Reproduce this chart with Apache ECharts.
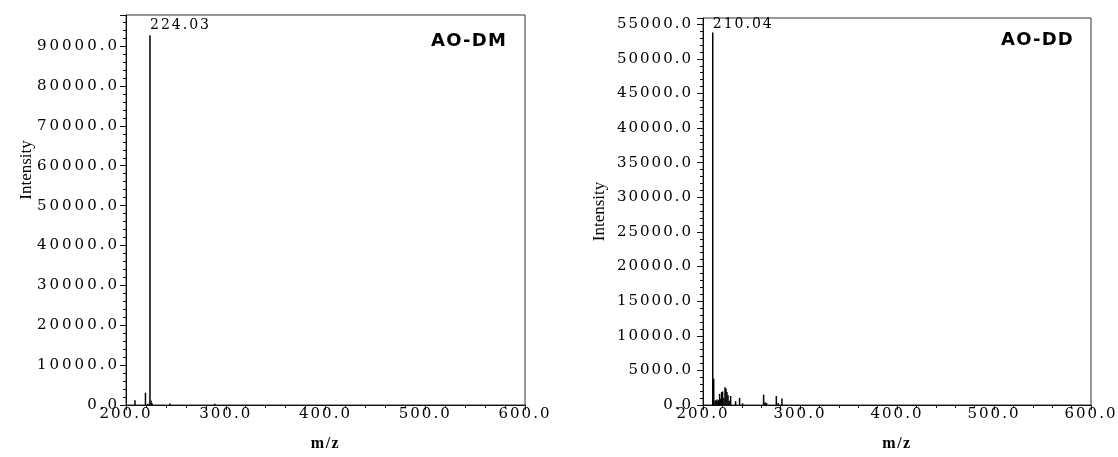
<!DOCTYPE html>
<html>
<head>
<meta charset="utf-8">
<script src="https://cdn.jsdelivr.net/npm/echarts@6/dist/echarts.min.js"></script>
<style>
  html, body { margin: 0; padding: 0; background: #fff; }
  #chart { width: 1118px; height: 457px; }
</style>
</head>
<body>
<div id="chart"></div>
<script>
// m/z axis range shared by both spectra
const mzMin = 200, mzMax = 600, mzStep = 100;

// AO-DM spectrum
const dmTitle = 'AO-DM';
const dmMz  = [209.0, 219.5, 222.0, 224.03, 225.0, 226.0, 244.0, 289.0];
const dmInt = [1200, 3100, 300, 92700, 1100, 500, 400, 300];
const dmBasePeak = 224.03;
const dmYMax = 97800, dmYStep = 10000;

// AO-DD spectrum
const ddTitle = 'AO-DD';
const ddMz  = [210.04, 211.04, 212.5, 213.5, 214.5, 215.5, 216.2, 217.1, 218.2, 219.2, 220.2, 221.5,
               222.7, 223.7, 224.7, 225.8, 227.0, 228.5, 233.6, 237.7, 240.8, 262.5, 264.0, 265.5,
               275.6, 277.6, 281.4];
const ddInt = [53800, 3800, 700, 600, 800, 500, 700, 1600, 900, 1870, 1960, 1000,
               2570, 2330, 1870, 1400, 600, 1300, 560, 1030, 230, 1500, 400, 300,
               1300, 280, 930];
const ddBasePeak = 210.04;
const ddYMax = 55900, ddYStep = 5000;

const xName = 'm/z';
const yName = 'Intensity';

// Font stacks: the wide stack is used for the AO-DM intensity numbers, which are tracked wider
const serifNum = 'DejaVu Serif';
const serifNumWide = 'DejaVu Serif, serif';

// Instrument-style wide tracking for the serif tick numbers and the bold titles
(function () {
  const P = CanvasRenderingContext2D.prototype;
  const spacingFor = f =>
    (/DejaVu Serif/.test(f) && /,/.test(f)) ? '3px' :
    /DejaVu Serif/.test(f) ? '2px' :
    /DejaVu Sans/.test(f) ? '1.2px' :
    (/bold|700/.test(f) && /Liberation Serif/.test(f)) ? '1.5px' : '0px';
  ['fillText', 'strokeText'].forEach(name => {
    const orig = P[name];
    P[name] = function () {
      if (!('letterSpacing' in this)) return orig.apply(this, arguments);
      const prev = this.letterSpacing;
      this.letterSpacing = spacingFor(this.font);
      const r = orig.apply(this, arguments);
      this.letterSpacing = prev;
      return r;
    };
  });
})();

const tickFont = { fontFamily: serifNum, fontSize: 15, color: '#000' };
const yNameStyle = { fontFamily: 'Liberation Serif', fontSize: 17, color: '#000' };

function peakData(mz, inten, basePeak, labelDist) {
  return mz.map((m, i) => {
    const item = { value: [m, inten[i]] };
    if (m === basePeak) {
      item.label = {
        show: true,
        position: 'top',
        align: 'left',
        distance: labelDist,
        formatter: p => p.value[0].toFixed(2),
        ...tickFont,
        fontSize: 14
      };
    }
    return item;
  });
}

function xAxisFor(gridIndex) {
  return {
    type: 'value', gridIndex, min: mzMin, max: mzMax, interval: mzStep,
    name: xName, nameLocation: 'middle', nameGap: 31,
    nameTextStyle: { fontFamily: 'Liberation Serif', fontWeight: 'bold', fontSize: 16, color: '#000' },
    axisLine: { show: true, lineStyle: { color: '#111', width: 1 } },
    axisTick: { show: true, length: 5, lineStyle: { color: '#111' } },
    minorTick: { show: true, splitNumber: 5, length: 3, lineStyle: { color: '#111' } },
    axisLabel: { ...tickFont, margin: 2, formatter: v => v.toFixed(1) },
    splitLine: { show: false }
  };
}

function yAxisFor(gridIndex, max, step, margin, family, withName, nameGap) {
  const axis = {
    type: 'value', gridIndex, min: 0, max, interval: step,
    axisLine: { show: true, lineStyle: { color: '#111', width: 1 } },
    axisTick: { show: true, length: 6, lineStyle: { color: '#111' } },
    minorTick: { show: true, splitNumber: 5, length: 3, lineStyle: { color: '#111' } },
    axisLabel: { ...tickFont, fontFamily: family, margin, showMaxLabel: false, formatter: v => v.toFixed(1) },
    splitLine: { show: false }
  };
  if (withName) {
    axis.name = yName;
    axis.nameLocation = 'middle';
    axis.nameGap = nameGap;
    axis.nameTextStyle = yNameStyle;
  }
  return axis;
}

const chart = echarts.init(document.getElementById('chart'), null, { renderer: 'canvas' });

chart.setOption({
  animation: false,
  backgroundColor: '#fff',
  grid: [
    { left: 126, right: 593, top: 15, bottom: 41, show: true, borderColor: '#333', borderWidth: 1 },
    { left: 703, right: 27, top: 18, bottom: 40, show: true, borderColor: '#333', borderWidth: 1 }
  ],
  xAxis: [xAxisFor(0), xAxisFor(1)],
  yAxis: [
    yAxisFor(0, dmYMax, dmYStep, 6, serifNumWide, false),
    yAxisFor(1, ddYMax, ddYStep, 10, serifNum, true, 95)
  ],
  graphic: [
    // left spectrum's intensity caption sits a little higher than the axis centre
    { type: 'text', x: 27, y: 170, rotation: Math.PI / 2, silent: true,
      style: { text: yName, align: 'center', verticalAlign: 'middle',
               fontFamily: yNameStyle.fontFamily, fontSize: yNameStyle.fontSize, fill: '#000' } },
    { type: 'text', x: 507, y: 32, silent: true,
      style: { text: dmTitle, align: 'right', verticalAlign: 'top',
               fontFamily: 'DejaVu Sans', fontWeight: 'bold', fontSize: 18, fill: '#000' } },
    { type: 'text', x: 1074, y: 31, silent: true,
      style: { text: ddTitle, align: 'right', verticalAlign: 'top',
               fontFamily: 'DejaVu Sans', fontWeight: 'bold', fontSize: 18, fill: '#000' } }
  ],
  series: [
    {
      type: 'bar', xAxisIndex: 0, yAxisIndex: 0, barWidth: 1.5,
      itemStyle: { color: '#000' }, emphasis: { disabled: true }, silent: true,
      data: peakData(dmMz, dmInt, dmBasePeak, 3)
    },
    {
      type: 'bar', xAxisIndex: 1, yAxisIndex: 1, barWidth: 1.5,
      itemStyle: { color: '#000' }, emphasis: { disabled: true }, silent: true,
      data: peakData(ddMz, ddInt, ddBasePeak, 1)
    }
  ]
});
</script>
</body>
</html>
